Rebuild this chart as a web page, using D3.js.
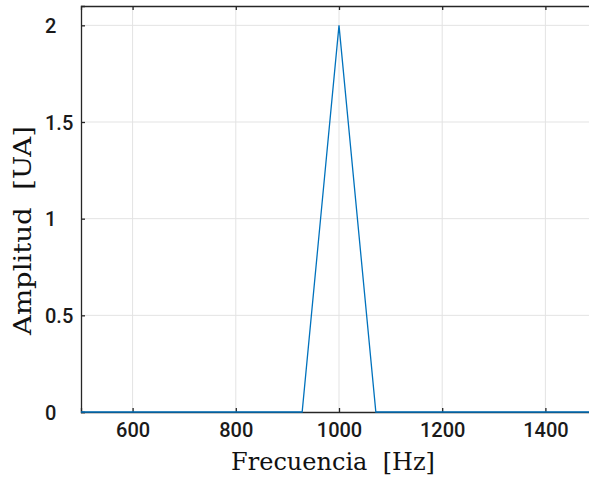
<!DOCTYPE html>
<html><head><meta charset="utf-8">
<script src="https://cdn.jsdelivr.net/npm/d3@7"></script>
<style>html,body{margin:0;padding:0;background:#fff;}svg{display:block;}</style>
</head><body>
<script>
const freqs = [500, 928.6, 1000, 1071.4, 1500];
const amps = [0, 0, 2, 0, 0];
const xTicks = [600, 800, 1000, 1200, 1400];
const yTicks = [0, 0.5, 1, 1.5, 2];
const xLabel = "Frecuencia  [Hz]";
const yLabel = "Amplitud  [UA]";

const W = 589, H = 477;
const svg = d3.select("body").append("svg").attr("width", W).attr("height", H);
svg.append("rect").attr("width", W).attr("height", H).attr("fill", "#fff");

const x = d3.scaleLinear().domain([500, 1500]).range([81, 597]);
const y = d3.scaleLinear().domain([0, 2.1]).range([412, 6]);

// grid
svg.append("g").selectAll("line").data(xTicks).join("line")
  .attr("x1", d => x(d)).attr("x2", d => x(d)).attr("y1", y(0)).attr("y2", y(2.1))
  .attr("stroke", "#e3e3e3").attr("stroke-width", 1);
svg.append("g").selectAll("line").data(yTicks.filter(d => d > 0)).join("line")
  .attr("x1", x(500)).attr("x2", x(1500)).attr("y1", d => y(d)).attr("y2", d => y(d))
  .attr("stroke", "#e3e3e3").attr("stroke-width", 1);

// axes with inward ticks
const axCol = "#262626";
const gB = svg.append("g").attr("transform", `translate(0,${y(0)})`)
  .call(d3.axisBottom(x).tickValues(xTicks).tickSize(-4).tickPadding(11).tickFormat(d3.format("d")));
const gT = svg.append("g").attr("transform", `translate(0,${y(2.1)})`)
  .call(d3.axisTop(x).tickValues(xTicks).tickSize(-4).tickFormat(""));
const gL = svg.append("g").attr("transform", `translate(${x(500)},0)`)
  .call(d3.axisLeft(y).tickValues(yTicks).tickSize(-4).tickFormat(d => d3.format("")(d)));
[gB, gT, gL].forEach(g => {
  g.select(".domain").attr("stroke", axCol).attr("stroke-width", 1.3);
  g.selectAll(".tick line").attr("stroke", axCol).attr("stroke-width", 1.3);
});
gB.selectAll(".tick text").attr("font-family", "Roboto").attr("font-weight", 500).attr("font-size", 20).attr("fill", "#1a1a1a");
gL.selectAll(".tick text").attr("font-family", "Roboto").attr("font-weight", 500).attr("font-size", 20).attr("fill", "#1a1a1a")
  .attr("text-anchor", "start").attr("x", -36).attr("dy", "0.36em");

// line
svg.append("path").datum(freqs.map((f, i) => [f, amps[i]]))
  .attr("d", d3.line().x(d => x(d[0])).y(d => y(d[1])))
  .attr("fill", "none").attr("stroke", "#0072BD").attr("stroke-width", 1.3);

// titles
svg.append("text").attr("x", 333).attr("y", 470).attr("text-anchor", "middle")
  .attr("font-family", "DejaVu Serif").attr("font-size", 24).attr("fill", "#111")
  .style("white-space", "pre").text(xLabel);
svg.append("text").attr("transform", `translate(31,230.5) rotate(-90)`).attr("text-anchor", "middle")
  .attr("font-family", "DejaVu Serif").attr("font-size", 24).attr("fill", "#111")
  .attr("textLength", 209).attr("lengthAdjust", "spacingAndGlyphs")
  .style("white-space", "pre").text(yLabel);
</script>
</body></html>
